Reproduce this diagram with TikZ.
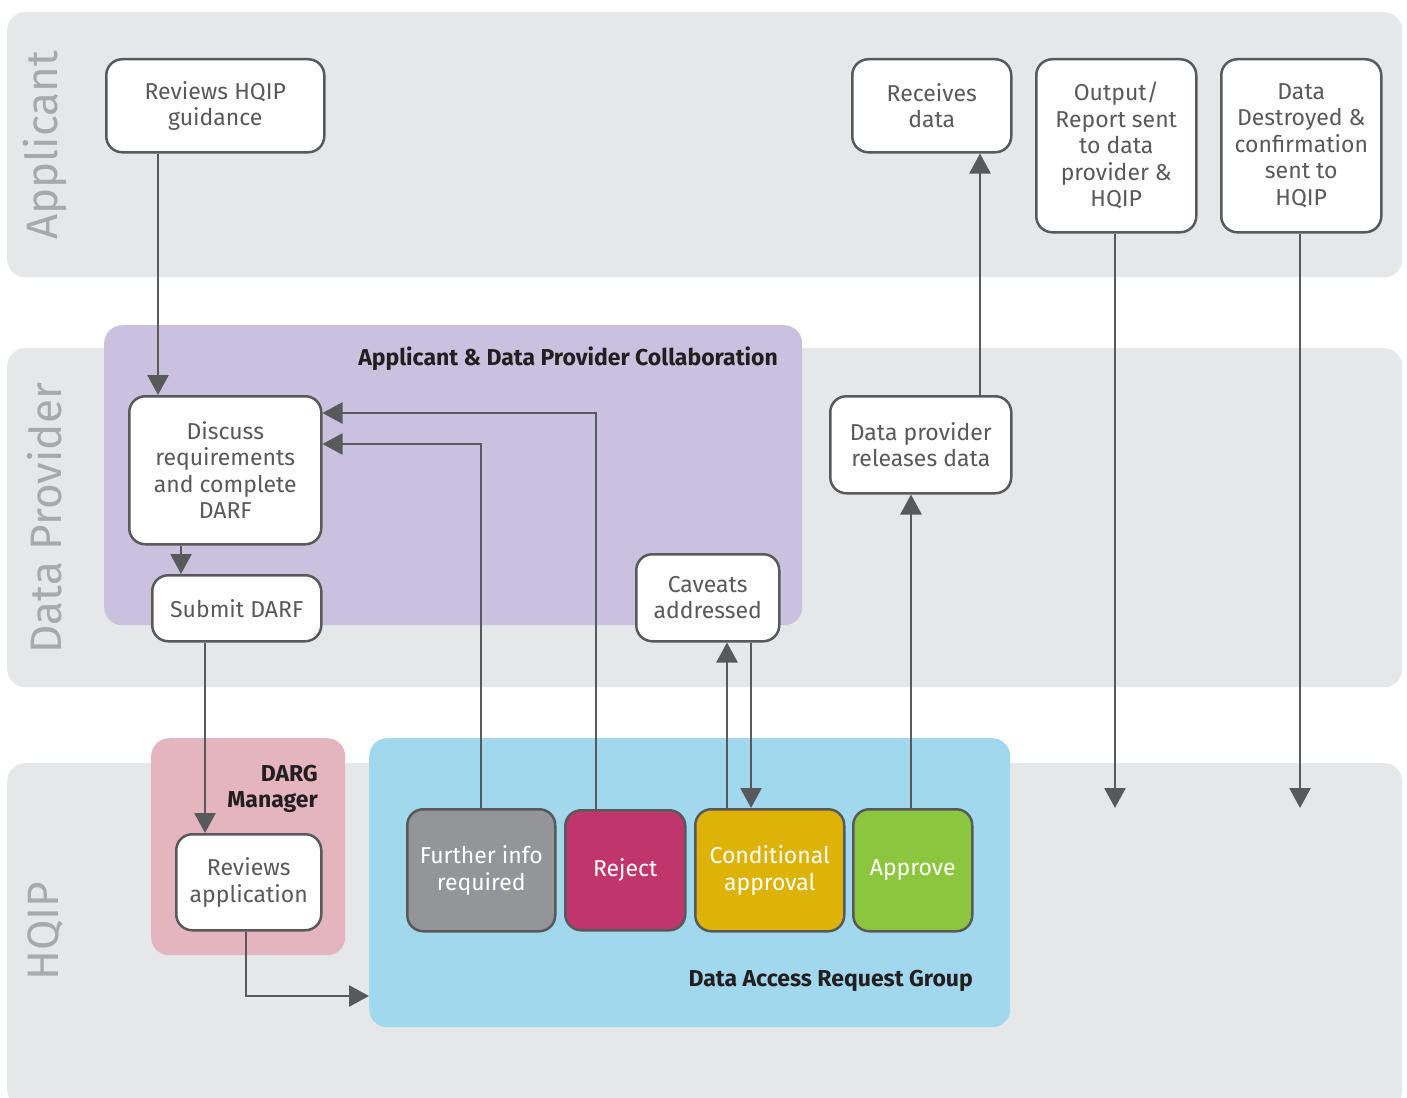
\documentclass[tikz,border=0pt]{standalone}
\usepackage{fontspec}
\setmainfont{Fira Sans}
\usetikzlibrary{arrows.meta}
\definecolor{lanebg}{HTML}{E6E7E9}
\definecolor{purplebg}{HTML}{C9C1DD}
\definecolor{pinkbg}{HTML}{E4B4BF}
\definecolor{bluebg}{HTML}{A1D8ED}
\definecolor{linec}{HTML}{58595B}
\definecolor{graynode}{HTML}{939598}
\definecolor{rejectc}{HTML}{C0356C}
\definecolor{condc}{HTML}{DCB306}
\definecolor{approvec}{HTML}{8CC63F}
\definecolor{lanetext}{HTML}{A7A9AC}
\definecolor{titletext}{HTML}{231F20}
\tikzset{
  lane/.style={fill=lanebg, draw=none, rounded corners=18pt, anchor=north west, inner sep=0pt},
  group/.style={draw=none, rounded corners=18pt, anchor=north west, inner sep=0pt},
  stepbox/.style={draw=linec, line width=2.5pt, rounded corners=16pt, fill=white, text=linec,
    align=center, anchor=north west, inner sep=0pt,
    font=\fontsize{23}{26.5}\selectfont},
  colbox/.style={stepbox, text=white},
  lanelabel/.style={rotate=90, text=lanetext, font=\fontsize{44}{44}\selectfont, inner sep=0pt},
  grouptitle/.style={text=titletext, font=\bfseries\fontsize{23}{26}\selectfont, inner sep=0pt},
  arr/.style={draw=linec, line width=2.7pt, -{Triangle[length=20pt,width=21pt]}},
}
\begin{document}
\begin{tikzpicture}[x=1pt,y=-1pt]
\useasboundingbox (0,0) rectangle (1407,1097);
% lanes
\node[lane, minimum width=1395pt, minimum height=265pt] (laneA) at (7,12) {};
\node[lane, minimum width=1395pt, minimum height=339pt] (laneD) at (7,348) {};
\node[lane, minimum width=1395pt, minimum height=345pt] (laneH) at (7,763) {};
\node[lanelabel] (labA) at (45,145) {Applicant};
\node[lanelabel] (labD) at (45,518) {Data Provider};
\node[lanelabel] (labH) at (45,931) {HQIP};
% groups
\node[group, fill=purplebg, minimum width=698pt, minimum height=300pt] (collab) at (104,325) {};
\node[group, fill=pinkbg, minimum width=194pt, minimum height=217pt] (dargm) at (151,738) {};
\node[group, fill=bluebg, minimum width=641pt, minimum height=289pt] (darg) at (369,738) {};
\node[grouptitle, anchor=base east] (tcollab) at (778,365) {Applicant \& Data Provider Collaboration};
\node[grouptitle, anchor=north east, align=right] (tdargm) at (318,765) {DARG\\Manager};
\node[grouptitle, anchor=base east] (tdarg) at (973,986) {Data Access Request Group};
% step boxes
\node[stepbox, minimum width=218pt, minimum height=93pt] (rhg) at (105,58) {Reviews HQIP\\guidance};
\node[stepbox, minimum width=192pt, minimum height=148pt] (disc) at (128,395) {Discuss\\requirements\\and complete\\DARF};
\node[stepbox, minimum width=169pt, minimum height=66pt] (sub) at (151,574) {Submit DARF};
\node[stepbox, minimum width=143pt, minimum height=87pt] (cav) at (635,553) {Caveats\\addressed};
\node[stepbox, minimum width=181pt, minimum height=97pt] (rel) at (829,395) {Data provider\\releases data};
\node[stepbox, minimum width=159pt, minimum height=93pt] (rec) at (851,58) {Receives\\data};
\node[stepbox, minimum width=160pt, minimum height=173pt] (out) at (1035,58) {Output/\\Report sent\\to data\\provider \&\\HQIP};
\node[stepbox, minimum width=160pt, minimum height=173pt] (des) at (1220,58) {Data\\Destroyed \&\\confirmation\\sent to\\HQIP};
\node[stepbox, minimum width=145pt, minimum height=96pt] (rapp) at (175,833) {Reviews\\application};
\node[colbox, fill=graynode, minimum width=148pt, minimum height=122pt] (fur) at (406,808) {Further info\\required};
\node[colbox, fill=rejectc, minimum width=120pt, minimum height=120pt] (rej) at (564,809) {Reject};
\node[colbox, fill=condc, minimum width=149pt, minimum height=122pt] (cond) at (694,808) {Conditional\\approval};
\node[colbox, fill=approvec, minimum width=119pt, minimum height=122pt] (appr) at (852,808) {Approve};
% free ends
\coordinate (outend) at (1115,808);
\coordinate (desend) at (1300,808);
% connectors
\draw[arr] (158,0 |- rhg.south) -- (158,0 |- disc.north);
\draw[arr] (181,0 |- disc.south) -- (181,0 |- sub.north);
\draw[arr] (205,0 |- sub.south) -- (205,0 |- rapp.north);
\draw[arr] (246,0 |- rapp.south) |- (darg.west |- 0,996);
\draw[arr] (481,0 |- fur.north) |- (disc.east |- 0,444);
\draw[arr] (596,0 |- rej.north) |- (disc.east |- 0,413);
\draw[arr] (727,0 |- cond.north) -- (727,0 |- cav.south);
\draw[arr] (751,0 |- cav.south) -- (751,0 |- cond.north);
\draw[arr] (911,0 |- appr.north) -- (911,0 |- rel.south);
\draw[arr] (980,0 |- rel.north) -- (980,0 |- rec.south);
\draw[arr] (1115,0 |- out.south) -- (outend);
\draw[arr] (1300,0 |- des.south) -- (desend);
\end{tikzpicture}
\end{document}
